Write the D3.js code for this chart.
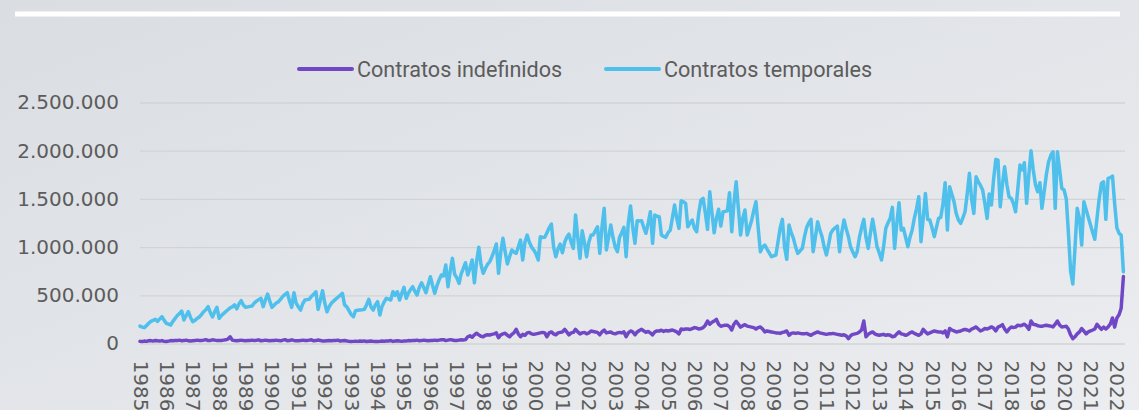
<!DOCTYPE html>
<html>
<head>
<meta charset="utf-8">
<script src="https://cdn.jsdelivr.net/npm/d3@7"></script>
<style>
  html, body { margin: 0; padding: 0; overflow: hidden; }
  body { width: 1139px; height: 410px; }
</style>
</head>
<body>
<div id="chart"></div>
<script>
// monthly contracts, thousands, Jan 1985 .. Apr 2022 (one row per year)
const indefinidos = [
  22, 20, 25, 22, 28, 30, 25, 32, 28, 25, 30, 22,
  20, 25, 30, 28, 32, 30, 35, 28, 30, 35, 28, 25,
  28, 30, 35, 32, 30, 35, 40, 30, 32, 38, 35, 30,
  30, 32, 35, 38, 45, 70, 35, 30, 28, 32, 35, 30,
  28, 30, 32, 35, 30, 33, 38, 28, 30, 35, 32, 28,
  30, 32, 35, 30, 28, 35, 40, 28, 30, 38, 32, 28,
  28, 30, 35, 32, 30, 35, 38, 28, 30, 36, 32, 25,
  25, 28, 30, 28, 30, 32, 35, 25, 28, 30, 27, 22,
  20, 22, 24, 22, 25, 24, 27, 20, 23, 26, 22, 20,
  20, 22, 25, 23, 25, 27, 30, 22, 25, 28, 25, 22,
  25, 27, 30, 28, 30, 32, 35, 28, 30, 35, 32, 28,
  30, 32, 35, 32, 35, 38, 40, 30, 35, 40, 36, 30,
  32, 35, 38, 36, 40, 70, 80, 65, 90, 106, 90, 75,
  70, 85, 90, 88, 95, 100, 110, 60, 90, 100, 106, 85,
  70, 95, 110, 147, 100, 70, 95, 85, 110, 115, 100, 95,
  100, 105, 110, 115, 110, 70, 110, 120, 100, 90, 110, 115,
  120, 147, 120, 90, 110, 115, 147, 120, 100, 110, 115, 100,
  110, 130, 125, 120, 115, 90, 120, 140, 110, 115, 120, 105,
  100, 110, 115, 110, 120, 70, 110, 130, 120, 90, 120, 135,
  147, 130, 116, 125, 110, 90, 120, 130, 130, 137, 125, 135,
  130, 135, 140, 130, 120, 100, 150, 145, 150, 150, 145, 155,
  165, 160, 150, 155, 165, 190, 233, 200, 220, 233, 250, 200,
  178, 185, 190, 190, 175, 140, 200, 230, 200, 170, 185, 195,
  180, 175, 170, 165, 150, 165, 172, 150, 120, 130, 125, 120,
  115, 110, 110, 105, 115, 120, 130, 85, 105, 110, 105, 110,
  105, 100, 100, 105, 95, 85, 100, 110, 120, 110, 105, 100,
  95, 100, 100, 105, 100, 95, 90, 85, 90, 80, 50, 80,
  95, 100, 105, 120, 140, 233, 70, 95, 110, 120, 100, 90,
  85, 90, 95, 85, 90, 85, 70, 75, 100, 120, 100, 95,
  85, 95, 110, 120, 105, 95, 85, 100, 147, 120, 100, 110,
  120, 130, 125, 120, 120, 110, 130, 70, 155, 140, 130, 120,
  125, 130, 140, 147, 140, 130, 150, 160, 172, 150, 130, 140,
  155, 150, 160, 172, 160, 130, 170, 180, 195, 150, 120, 150,
  172, 165, 170, 190, 185, 190, 200, 180, 147, 233, 200, 195,
  185, 180, 178, 185, 190, 185, 180, 172, 200, 233, 190, 172,
  175, 178, 150, 90, 50, 70, 100, 120, 155, 130, 100, 120,
  130, 140, 150, 200, 170, 147, 170, 150, 172, 200, 265, 170,
  265, 300, 365, 695
]

const temporales = [
  181, 170, 164, 185, 210, 230, 240, 251, 230, 255, 278, 240,
  209, 200, 192, 230, 260, 290, 310, 337, 244, 290, 330, 270,
  226, 240, 260, 275, 300, 330, 350, 382, 320, 275, 330, 375,
  261, 290, 310, 330, 350, 370, 380, 400, 360, 410, 444, 400,
  375, 380, 385, 389, 420, 440, 455, 469, 382, 450, 513, 440,
  375, 400, 420, 434, 460, 490, 510, 527, 440, 375, 527, 420,
  380, 347, 410, 451, 455, 458, 490, 510, 537, 354, 450, 548,
  420, 330, 380, 417, 440, 460, 480, 500, 520, 400, 380, 340,
  300, 278, 340, 345, 348, 350, 354, 400, 458, 380, 347, 400,
  434, 296, 380, 430, 469, 460, 451, 537, 500, 537, 451, 520,
  583, 469, 520, 560, 589, 540, 503, 580, 630, 580, 527, 610,
  693, 600, 520, 600, 660, 710, 700, 814, 589, 750, 883, 720,
  680, 624, 720, 780, 838, 710, 780, 866, 630, 850, 998, 820,
  728, 780, 820, 848, 900, 960, 1032, 728, 950, 1091, 950, 824,
  900, 970, 950, 935, 1000, 1073, 866, 1050, 1125, 1050, 1000, 970,
  930, 866, 1108, 1100, 1101, 1150, 1200, 1239, 1000, 900, 980, 1032,
  942, 1050, 1100, 1135, 1050, 987, 1333, 1100, 883, 1170, 1050, 900,
  1050, 1125, 1125, 1170, 1211, 935, 1200, 1402, 970, 1100, 1229, 1100,
  1000, 952, 1100, 1150, 1205, 900, 1250, 1426, 1200, 1039, 1273, 1270,
  1273, 1200, 1143, 1250, 1367, 1039, 1333, 1320, 1315, 1125, 1110, 1101,
  1150, 1177, 1300, 1436, 1300, 1194, 1481, 1470, 1454, 1211, 1250, 1281,
  1194, 1159, 1350, 1488, 1506, 1350, 1184, 1574, 1350, 1149, 1300, 1392,
  1218, 1367, 1370, 1377, 1564, 1159, 1450, 1678, 1400, 1125, 1300, 1385,
  1125, 1200, 1273, 1380, 1470, 1200, 952, 1000, 1021, 980, 940, 900,
  910, 918, 1050, 1200, 1288, 1000, 873, 1229, 1150, 1091, 1000, 935,
  960, 987, 1100, 1200, 1250, 1288, 952, 1100, 1263, 1180, 1108, 1000,
  918, 1030, 1143, 1180, 1200, 1218, 952, 1150, 1281, 1190, 1108, 1000,
  950, 900, 952, 1100, 1200, 1288, 1100, 987, 1150, 1288, 1150, 1004,
  940, 866, 1000, 1194, 1250, 1300, 1412, 987, 1250, 1460, 1177, 1194,
  1100, 1004, 1100, 1177, 1300, 1400, 1522, 1056, 1300, 1557, 1288, 1281,
  1200, 1108, 1200, 1298, 1308, 1450, 1668, 1177, 1626, 1550, 1470, 1350,
  1281, 1246, 1300, 1367, 1550, 1765, 1500, 1350, 1730, 1680, 1640, 1592,
  1450, 1298, 1550, 1436, 1700, 1910, 1903, 1419, 1650, 1833, 1650, 1522,
  1506, 1450, 1367, 1600, 1851, 1800, 1875, 1454, 1750, 1999, 1800, 1650,
  1574, 1668, 1402, 1574, 1750, 1885, 1950, 1989, 1402, 1989, 1800, 1609,
  1592, 1500, 1150, 750, 617, 1000, 1402, 1300, 1021, 1470, 1390, 1310,
  1230, 1150, 1081, 1300, 1500, 1661, 1678, 1288, 1713, 1720, 1737, 1450,
  1200, 1143, 1125, 745
]

const seriesNames = ['Contratos indefinidos', 'Contratos temporales']
const seriesColors = ['#7048c6', '#4fbfec']
const yTicks = [0, 500000, 1000000, 1500000, 2000000, 2500000]
const xYears = [1985, 1986, 1987, 1988, 1989, 1990, 1991, 1992, 1993, 1994,
  1995, 1996, 1997, 1998, 1999, 2000, 2001, 2002, 2003, 2004, 2005, 2006,
  2007, 2008, 2009, 2010, 2011, 2012, 2013, 2014, 2015, 2016, 2017, 2018,
  2019, 2020, 2021, 2022]
const firstYear = 1985

const width = 1139
const height = 410
const margin = {left: 140, right: 1123.4, top: 102.5, bottom: 343.5}

const es = d3.formatLocale({decimal: ',', thousands: '.', grouping: [3], currency: ['', ' €']})
const fmt = es.format(',')

const svg = d3.select('#chart')
  .append('svg')
  .attr('width', width)
  .attr('height', height)

const defs = svg.append('defs')
const grad = defs.append('linearGradient')
  .attr('id', 'bg')
  .attr('x1', 0).attr('y1', 0)
  .attr('x2', 1).attr('y2', 1)
grad.append('stop').attr('offset', 0).attr('stop-color', '#dadde2')
grad.append('stop').attr('offset', 1).attr('stop-color', '#ebedf0')

svg.append('rect')
  .attr('width', width)
  .attr('height', height)
  .attr('fill', 'url(#bg)')

// white rule at the top
svg.append('rect')
  .attr('x', 15).attr('y', 11.5)
  .attr('width', 1105).attr('height', 5)
  .attr('fill', '#ffffff')

const monthDate = (i) => new Date(firstYear, i, 1)
const lastIndex = temporales.length - 1

const x = d3.scaleTime()
  .domain([monthDate(0), monthDate(lastIndex)])
  .range([margin.left, margin.right])

const y = d3.scaleLinear()
  .domain([0, 2500000])
  .range([margin.bottom, margin.top])

// grid
const yAxis = d3.axisLeft(y)
  .tickValues(yTicks)
  .tickSize(-(1125 - margin.left))
  .tickPadding(21)
  .tickFormat(fmt)

const gy = svg.append('g')
  .attr('transform', `translate(${margin.left},0)`)
  .call(yAxis)
gy.select('.domain').remove()
gy.selectAll('.tick line')
  .attr('stroke', '#d2d3d5')
  .attr('stroke-width', 1.3)
gy.selectAll('.tick text')
  .attr('fill', '#5c5c5c')
  .style('font-family', '"DejaVu Sans", sans-serif')
  .style('font-size', '20px')

// x axis labels, rotated
const xAxis = d3.axisBottom(x)
  .tickValues(xYears.map(yr => new Date(yr, 0, 1)))
  .tickSize(0)
  .tickFormat(d3.timeFormat('%Y'))

const gx = svg.append('g')
  .attr('transform', `translate(0,${margin.bottom})`)
  .call(xAxis)
gx.select('.domain').remove()
gx.selectAll('.tick text')
  .attr('fill', '#5c5c5c')
  .style('font-family', '"DejaVu Sans", sans-serif')
  .style('font-size', '20px')
  .attr('text-anchor', 'start')
  .attr('dominant-baseline', 'central')
  .attr('y', 0)
  .attr('dy', null)
  .attr('transform', 'translate(0,17) rotate(90)')

const line = d3.line()
  .x((d, i) => x(monthDate(i)))
  .y(d => y(d * 1000))

const series = [indefinidos, temporales]
svg.append('g')
  .selectAll('path')
  .data(series)
  .enter()
  .append('path')
  .attr('d', line)
  .attr('fill', 'none')
  .attr('stroke', (d, i) => seriesColors[i])
  .attr('stroke-width', 3.5)
  .attr('stroke-linejoin', 'round')
  .attr('stroke-linecap', 'round')

// legend
const legendX = [299, 606]
const legend = svg.append('g')
  .selectAll('g')
  .data(seriesNames)
  .enter()
  .append('g')
  .attr('transform', (d, i) => `translate(${legendX[i]},69)`)

legend.append('line')
  .attr('x1', 0).attr('x2', 53)
  .attr('stroke', (d, i) => seriesColors[i])
  .attr('stroke-width', 4)
  .attr('stroke-linecap', 'round')

legend.append('text')
  .attr('x', 58)
  .attr('dy', '0.35em')
  .attr('fill', '#5c5c5c')
  .style('font-family', 'Roboto, sans-serif')
  .style('font-size', '21.6px')
  .text(d => d)
</script>
</body>
</html>
